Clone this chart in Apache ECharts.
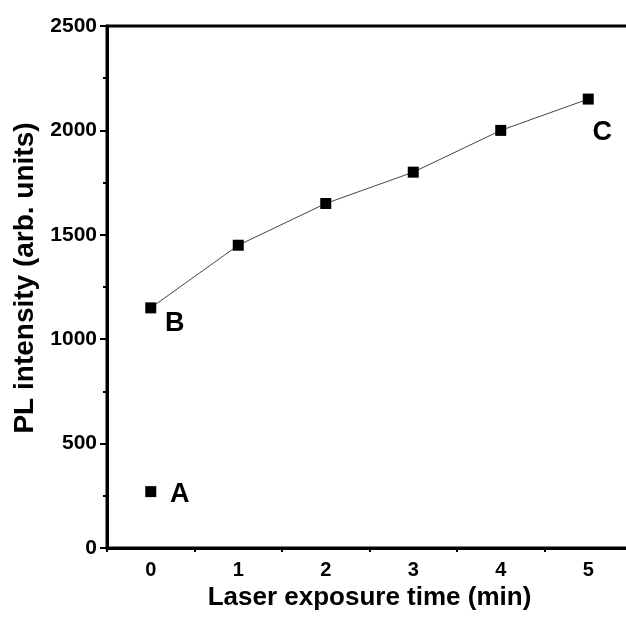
<!DOCTYPE html>
<html lang="en">

<head>
    <meta charset="UTF-8">
    <title>PL intensity</title>
    <script src="https://cdn.jsdelivr.net/npm/echarts@6/dist/echarts.min.js"></script>
    <style>
        html, body { margin: 0; padding: 0; background: #fff; }
        #main { width: 626px; height: 617px; }
    </style>
</head>

<body>
    <div id="main"></div>
</body>

<script>
    // x categories (laser exposure time, min)
    var timeCats = ['0', '1', '2', '3', '4', '5'];
    // connected series, t = 0..5
    var seriesTimes = [0, 1, 2, 3, 4, 5];
    var seriesValues = [1150, 1450, 1650, 1800, 2000, 2150];
    var seriesNames = ['B', '', '', '', '', 'C'];
    // lone point A
    var pointATime = [0];
    var pointAValue = [270];
    var pointAName = ['A'];

    var fontFam = "'Liberation Sans', Arial, sans-serif";

    var lineData = [];
    for (let i = 0; i < seriesTimes.length; i++) {
        let item = { value: [seriesTimes[i], seriesValues[i]] };
        if (seriesNames[i] === 'B') {
            item.label = { show: true, formatter: 'B', position: 'inside', offset: [24, 16] };
        } else if (seriesNames[i] === 'C') {
            item.label = { show: true, formatter: 'C', position: 'inside', offset: [14, 33] };
        }
        lineData.push(item);
    }
    var aData = [];
    for (let i = 0; i < pointATime.length; i++) {
        aData.push({
            value: [pointATime[i], pointAValue[i]],
            label: { show: true, formatter: pointAName[i], position: 'inside', offset: [29, 3] }
        });
    }

    var labelStyle = {
        color: '#000',
        fontFamily: fontFam,
        fontWeight: 'bold',
        fontSize: 27
    };

    var gridBox = { left: 107, top: 26, width: 525, height: 522, outerBoundsMode: 'none', containLabel: false };

    var chart = echarts.init(document.getElementById('main'));
    var option = {
        animation: false,
        backgroundColor: '#fff',
        grid: [
            Object.assign({
                show: true,
                borderColor: '#000',
                borderWidth: 3,
                backgroundColor: 'transparent'
            }, gridBox),
            // second grid only carries the half-step x ticks
            Object.assign({ show: false }, gridBox)
        ],
        xAxis: [
            {
                type: 'category',
                gridIndex: 0,
                data: timeCats,
                boundaryGap: true,
                position: 'bottom',
                name: 'Laser exposure time (min)',
                nameLocation: 'middle',
                nameGap: 27,
                nameTextStyle: { color: '#000', fontFamily: fontFam, fontWeight: 'bold', fontSize: 26 },
                axisLine: { lineStyle: { color: '#000', width: 3 } },
                axisTick: { alignWithLabel: true, length: 8, lineStyle: { color: '#000', width: 2 } },
                axisLabel: { color: '#000', fontFamily: fontFam, fontWeight: 'bold', fontSize: 20, margin: 12 },
                splitLine: { show: false }
            },
            {
                type: 'category',
                gridIndex: 1,
                data: timeCats,
                boundaryGap: true,
                position: 'bottom',
                axisLine: { show: false },
                axisTick: { show: true, alignWithLabel: false, length: 4, lineStyle: { color: '#000', width: 2 } },
                axisLabel: { show: false },
                splitLine: { show: false }
            }
        ],
        yAxis: [
            {
                type: 'value',
                gridIndex: 0,
                min: 0,
                max: 2500,
                interval: 500,
                name: 'PL intensity (arb. units)',
                nameLocation: 'middle',
                nameGap: 68,
                nameTextStyle: { color: '#000', fontFamily: fontFam, fontWeight: 'bold', fontSize: 28, padding: [0, 0, 0, 18] },
                axisLine: { show: true, lineStyle: { color: '#000', width: 3 } },
                axisTick: { show: true, length: 7, lineStyle: { color: '#000', width: 2 } },
                minorTick: { show: true, splitNumber: 2, length: 4, lineStyle: { color: '#000', width: 2 } },
                axisLabel: {
                    color: '#000', fontFamily: fontFam, fontWeight: 'bold', fontSize: 21, margin: 10,
                    formatter: function (v) { return String(v); }
                },
                splitLine: { show: false },
                minorSplitLine: { show: false }
            },
            {
                type: 'value',
                gridIndex: 1,
                min: 0,
                max: 2500,
                show: false
            }
        ],
        series: [
            {
                type: 'line',
                xAxisIndex: 0,
                yAxisIndex: 0,
                data: lineData,
                symbol: 'rect',
                symbolSize: 11,
                itemStyle: { color: '#000', opacity: 1 },
                lineStyle: { color: '#444', width: 1 },
                label: labelStyle
            },
            {
                type: 'scatter',
                xAxisIndex: 0,
                yAxisIndex: 0,
                data: aData,
                symbol: 'rect',
                symbolSize: 11,
                itemStyle: { color: '#000', opacity: 1 },
                label: labelStyle
            }
        ]
    };
    chart.setOption(option);
</script>

</html>
